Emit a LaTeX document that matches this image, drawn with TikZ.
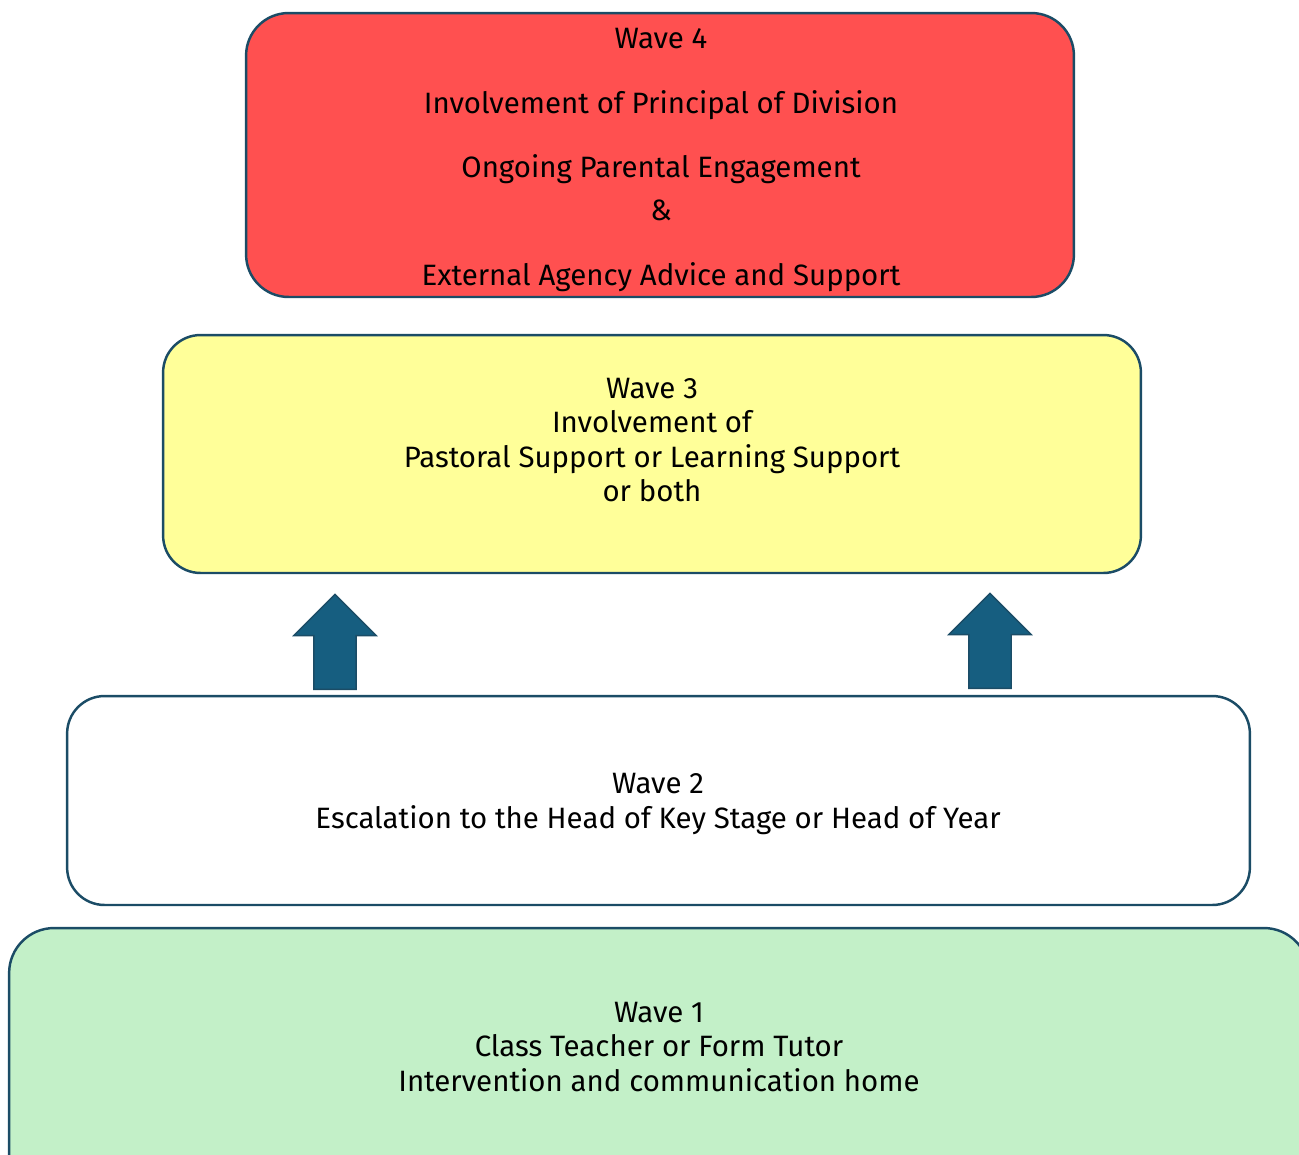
\documentclass[tikz,border=0pt]{standalone}
\usepackage{fontspec}
\setmainfont{Fira Sans}
\usetikzlibrary{positioning, shapes.arrows}
\definecolor{xframe}{HTML}{1B4C66}
\definecolor{xarrow}{HTML}{165E80}
\definecolor{xred}{HTML}{FF5050}
\definecolor{xyellow}{HTML}{FFFF99}
\definecolor{xgreen}{HTML}{C3F0C8}
\tikzset{
  wave/.style = {draw=xframe, line width=1.4pt, fill=#1, rounded corners=0.85cm, inner sep=0pt},
  wavetext/.style = {align=center, font=\fontsize{16.75pt}{19.6pt}\selectfont, inner sep=0pt},
  uparrow/.style = {single arrow, draw=xframe, line width=0.8pt, fill=xarrow, rotate=90,
    minimum height=1.9cm, minimum width=1.62cm, single arrow head extend=0.4cm,
    single arrow tip angle=90, inner xsep=0pt, inner ysep=0.41cm},
}
\begin{document}
\begin{tikzpicture}[x=0.02cm, y=-0.02cm]
  \useasboundingbox (0,0) rectangle (1299,1154);
  \clip (0,0) rectangle (1299,1154);
  % boxes
  \node[wave=xred, minimum width=16.56cm, minimum height=5.68cm] (w4) at (660,155) {};
  \node[wave=xyellow, minimum width=19.56cm, minimum height=4.76cm, rounded corners=0.75cm] (w3) at (652,454) {};
  \node[wave=white, minimum width=23.66cm, minimum height=4.18cm, rounded corners=0.75cm] (w2) at (658.5,800.5) {};
  \node[wave=xgreen, minimum width=26cm, minimum height=5.6cm, rounded corners=0.9cm] (w1) at (659,1068) {};
  % texts
  \node[wavetext] (t4) at (661,160) {Wave 4\\[17.4pt]Involvement of Principal of Division\\[17pt]Ongoing Parental Engagement\\[4.8pt]\&\\[17.4pt]External Agency Advice and Support};
  \node[wavetext] (t3) at (652,440) {Wave 3\\Involvement of\\Pastoral Support or Learning Support\\or both};
  \node[wavetext] (t2) at (658,804) {Wave 2\\Escalation to the Head of Key Stage or Head of Year};
  \node[wavetext] (t1) at (659,1047) {Wave 1\\Class Teacher or Form Tutor\\Intervention and communication home};
  % arrows
  \node[uparrow] (a1) at (335,652.5) {};
  \node[uparrow] (a2) at (990,651.5) {};
\end{tikzpicture}
\end{document}
